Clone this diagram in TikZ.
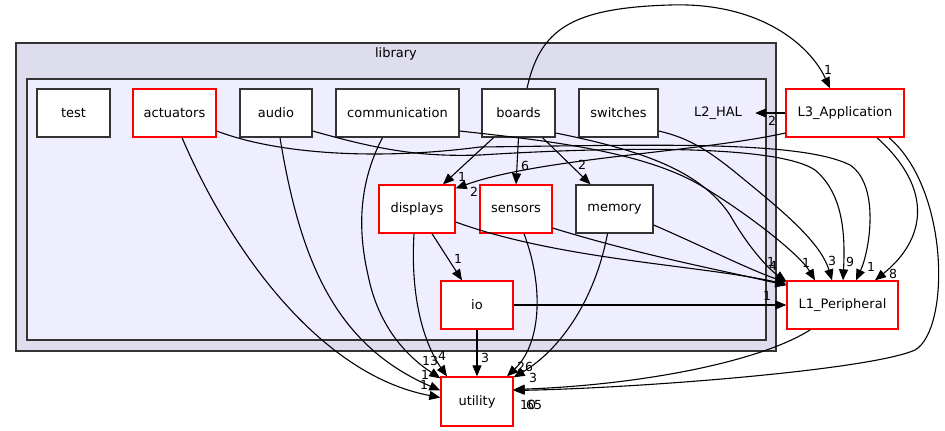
\documentclass[tikz,border=0pt]{standalone}
\usepackage{fontspec}
\setmainfont{DejaVu Sans}
\usetikzlibrary{arrows.meta}
\definecolor{outerfill}{HTML}{DDDDEE}
\definecolor{innerfill}{HTML}{EEEEFF}
\definecolor{boxred}{HTML}{FF0000}
\definecolor{boxgrey}{HTML}{333333}

\begin{document}
\begin{tikzpicture}[x=1pt,y=-1pt,>={Triangle[length=11pt,width=9pt]},
  dir/.style={draw=boxgrey,fill=white,line width=1.3pt,minimum height=48pt,
    minimum width=73pt,inner sep=0pt,font=\fontsize{13}{15}\selectfont},
  dirred/.style={dir,draw=boxred},
  dep/.style={->,line width=1.1pt},
  cnt/.style={font=\fontsize{12.5}{14}\selectfont,inner sep=0pt}]
\useasboundingbox (0,0) rectangle (945,431);

% Clusters
\draw[boxgrey,fill=outerfill,line width=1.4pt] (16,43) rectangle (776,351);
\node[cnt,font=\fontsize{13}{15}\selectfont] (lib) at (396,54) {library};
\draw[boxgrey,fill=innerfill,line width=1.4pt] (27,79) rectangle (766,340);

% === Directories ===
\node[dir] (test) at (73.5,113) {test};
\node[dirred,minimum width=83pt] (actuators) at (174.5,113) {actuators};
\node[dir,minimum width=72pt] (audio) at (276,113) {audio};
\node[dir,minimum width=123pt] (communication) at (397.5,113) {communication};
\node[dir] (boards) at (518.5,113) {boards};
\node[dir,minimum width=79pt] (switches) at (618.5,113) {switches};
\node[minimum width=74pt,minimum height=48pt,inner sep=0pt,
  font=\fontsize{13}{15}\selectfont] (l2hal) at (718,113) {L2\_HAL};
\node[dirred,minimum width=118pt] (l3) at (845,113) {L3\_Application};
\node[dirred,minimum width=76pt] (displays) at (417,209) {displays};
\node[dirred,minimum width=72pt] (sensors) at (516,209) {sensors};
\node[dir,minimum width=77pt] (memory) at (614.5,209) {memory};
\node[dirred,minimum width=72pt] (io) at (477,305) {io};
\node[dirred,minimum width=111pt] (l1) at (842.5,305) {L1\_Peripheral};
\node[dirred,minimum width=72pt,minimum height=49pt] (utility) at (477,401.5) {utility};

% === Dependencies ===
% into L3 / L2
\draw[dep] ([xshift=8.5pt]boards.north) .. controls (540,30) and (570,8) .. (670,5)
  .. controls (760,2) and (810,45) .. ([xshift=-15pt]l3.north);
\node[cnt] (c1) at (828,70) {1};
\draw[dep] (l3.west) -- (l2hal.east);
\node[cnt] (c2) at (772,121) {2};

% inside library
\draw[dep] ([yshift=-20pt]l3.west) .. controls (700,152) and (540,158) .. ([yshift=-4pt]displays.north east);
\node[cnt] (c3) at (474,192) {2};
\draw[dep] ([xshift=-25pt]boards.south) -- ([xshift=26pt]displays.north);
\node[cnt] (c4) at (462,177) {1};
\draw[dep] (boards.south) -- (sensors.north);
\node[cnt] (c5) at (525,166) {6};
\draw[dep] ([xshift=24pt]boards.south) -- ([xshift=-24pt]memory.north);
\node[cnt] (c6) at (582,165) {2};
\draw[dep] ([xshift=15pt]displays.south) -- ([xshift=-15pt]io.north);
\node[cnt] (c7) at (458,259) {1};

% into utility
\draw[dep] (io.south) -- (utility.north);
\node[cnt] (c8) at (485,358) {3};
\draw[dep] ([xshift=-3pt]displays.south) .. controls (410,300) and (425,345) .. ([xshift=-30pt]utility.north);
\node[cnt] (c9) at (442,356) {4};
\draw[dep] ([xshift=-15pt]communication.south) .. controls (355,190) and (360,240) .. (368,275)
  .. controls (378,325) and (405,355) .. ([yshift=-2pt]utility.north west);
\node[cnt] (c10) at (430,361) {13};
\draw[dep] ([xshift=4pt]audio.south) .. controls (300,260) and (335,345) .. ([yshift=11pt]utility.west);
\node[cnt] (c11) at (425,375) {1};
\draw[dep] ([xshift=7.5pt]actuators.south) .. controls (230,250) and (320,375) .. ([yshift=4pt]utility.west);
\node[cnt] (c12) at (424,385) {1};
\draw[dep] ([xshift=8pt]sensors.south) .. controls (545,290) and (540,345) .. ([xshift=30pt]utility.north);
\node[cnt] (c13) at (525,367) {26};
\draw[dep] ([xshift=-7pt]memory.south) .. controls (595,300) and (560,350) .. ([yshift=-1pt]utility.north east);
\node[cnt] (c14) at (533,378) {3};
\draw[dep] ([xshift=-32pt]l1.south) .. controls (760,362) and (640,385) .. ([yshift=12pt]utility.east);
\draw[dep] ([xshift=44pt]l3.south) .. controls (950,190) and (950,330) .. (915,350)
  .. controls (870,370) and (640,388) .. ([yshift=11pt]utility.east);
\node[cnt,anchor=west] (c15) at (520,405) {10};
\node[cnt,anchor=west] (c16) at (526,405) {65};

% into L1_Peripheral
\draw[dep] (io.east) -- (l1.west);
\node[cnt] (c17) at (767,296) {1};
\draw[dep] ([xshift=32pt]l3.south) .. controls (935,190) and (925,240) .. ([xshift=32.5pt]l1.north);
\node[cnt] (c18) at (893,274) {8};
\draw[dep] ([yshift=-18pt]actuators.east) .. controls (280,155) and (380,160) .. (480,147)
  .. controls (650,145) and (800,140) .. (850,165)
  .. controls (880,185) and (870,250) .. ([xshift=13.5pt]l1.north);
\node[cnt] (c19) at (871,267) {1};
\draw[dep] ([yshift=-18pt]audio.east) .. controls (380,150) and (420,157) .. (480,155)
  .. controls (560,150) and (770,140) .. (815,170)
  .. controls (845,195) and (845,240) .. ([xshift=0.5pt]l1.north);
\node[cnt] (c20) at (850,262) {9};
\draw[dep] ([yshift=-18pt]switches.east) .. controls (690,138) and (710,152) .. (735,172)
  .. controls (775,205) and (820,240) .. ([xshift=-10.5pt]l1.north);
\node[cnt] (c21) at (832,261) {3};
\draw[dep] ([yshift=-18pt]communication.east) .. controls (540,140) and (640,150) .. (700,185)
  .. controls (750,215) and (800,255) .. ([xshift=-27.5pt]l1.north);
\node[cnt] (c22) at (806,263) {1};
\draw[dep] ([yshift=-20pt]boards.east) .. controls (640,150) and (700,170) .. (730,215)
  .. controls (750,250) and (770,270) .. ([yshift=-1pt]l1.north west);
\draw[dep] ([yshift=-13pt]displays.east) .. controls (560,260) and (700,265) .. ([yshift=-4pt]l1.north west);
\draw[dep] ([yshift=-19pt]sensors.east) .. controls (640,255) and (720,270) .. ([yshift=-5pt]l1.north west);
\draw[dep] ([yshift=-16pt]memory.east) .. controls (700,245) and (750,270) .. ([yshift=-2pt]l1.north west);
\node[cnt] (c23) at (771,262) {1};
\node[cnt] (c24) at (773,266) {4};
\end{tikzpicture}
\end{document}
